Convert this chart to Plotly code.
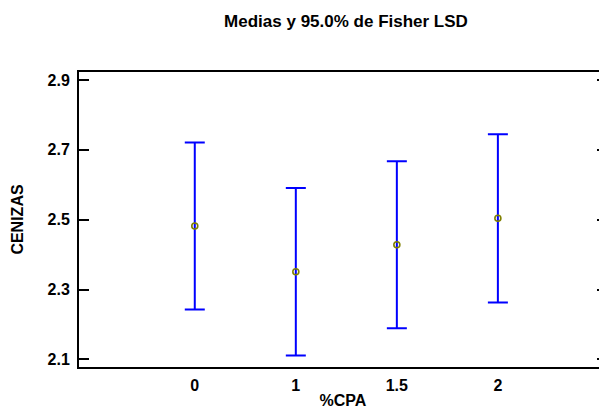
import plotly.graph_objects as go

categories = ["0", "1", "1.5", "2"]
means = [2.482, 2.351, 2.428, 2.504]
lsd_half = [0.239, 0.240, 0.239, 0.241]
y_ticks = [2.1, 2.3, 2.5, 2.7, 2.9]
y_ticklabels = ["2.1", "2.3", "2.5", "2.7", "2.9"]

xpos = list(range(len(categories)))
FONT = "Liberation Sans, Arial, sans-serif"

# page body has an 8px default margin; size the figure to fit the window
W, H = 599, 402

fig = go.Figure()
fig.add_trace(go.Scatter(
    x=xpos, y=means, mode="markers",
    marker=dict(symbol="circle-open", size=6, color="#808000", line=dict(width=1.6, color="#808000")),
    error_y=dict(type="data", array=lsd_half, visible=True, color="#0000ff", thickness=2, width=10),
    showlegend=False, hoverinfo="skip",
))
fig.add_trace(go.Scatter(
    x=xpos, y=means, mode="markers", marker=dict(opacity=0), yaxis="y2",
    showlegend=False, hoverinfo="skip",
))

yrange = [2.078, 2.923]
fig.update_layout(
    width=W, height=H,
    margin=dict(l=71, r=0, t=64, b=43),
    paper_bgcolor="white", plot_bgcolor="white",
    font=dict(family=FONT, size=16, color="black"),
    title=dict(text="<b>Medias y 95.0% de Fisher LSD</b>", x=338 / W, xref="container", xanchor="center",
               y=1 - 13 / H, yref="container", yanchor="middle", font=dict(size=17, family=FONT, color="black")),
    xaxis=dict(
        range=[-1.146, 4.08], tickvals=xpos, ticktext=["<b>%s</b>" % c for c in categories],
        showline=True, mirror=True, linecolor="black", linewidth=2,
        ticks="", showgrid=False, zeroline=False, ticklabelstandoff=3,
        title=dict(text="<b>%CPA</b>", standoff=2, font=dict(size=16)),
        tickfont=dict(size=16),
    ),
    yaxis=dict(
        range=yrange, tickvals=y_ticks, ticktext=["<b>%s</b>" % t for t in y_ticklabels],
        showline=True, mirror=False, linecolor="black", linewidth=2,
        ticks="inside", ticklen=10, tickwidth=2, tickcolor="black",
        showgrid=False, zeroline=False, ticklabelstandoff=4,
        title=dict(text="<b>CENIZAS</b>", standoff=20, font=dict(size=16)),
        tickfont=dict(size=16),
    ),
    yaxis2=dict(
        range=yrange, tickvals=y_ticks, overlaying="y", side="right",
        showticklabels=False, showline=False, showgrid=False, zeroline=False,
        ticks="inside", ticklen=10, tickwidth=2, tickcolor="black",
    ),
)
fig.write_html("out.html")
